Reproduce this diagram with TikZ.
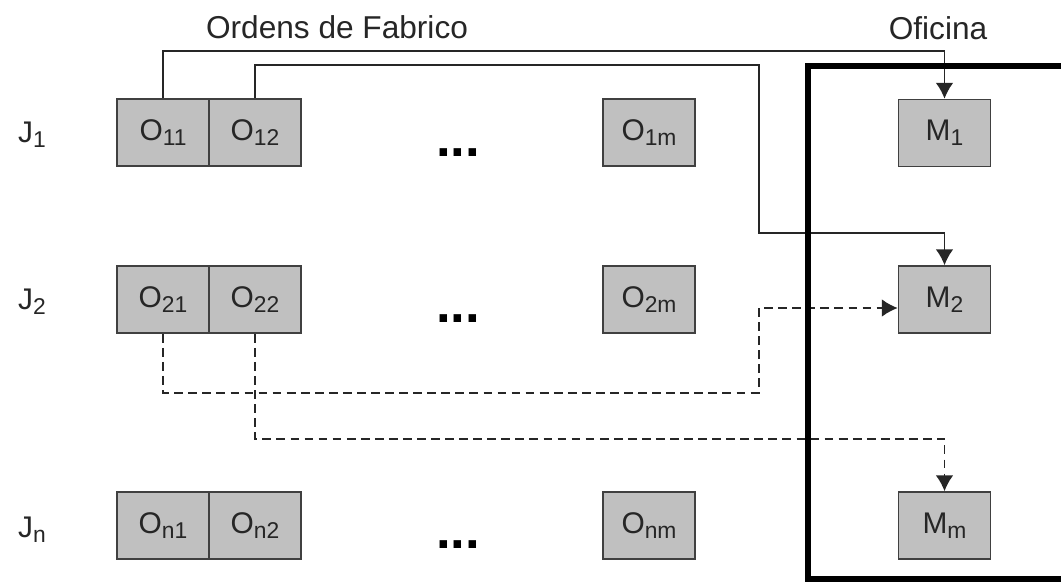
\documentclass[tikz,border=0pt]{standalone}
\usepackage{fontspec}
\setmainfont{Liberation Sans}
\usepackage{tikz}
\usetikzlibrary{positioning, arrows.meta, calc}
\definecolor{boxgray}{HTML}{C0C0C0}
\definecolor{edgegray}{HTML}{404040}
\newcommand{\lowidx}[1]{\raisebox{-0.3ex}{\fontsize{13}{13}\selectfont #1}}

\begin{document}
\begin{tikzpicture}[x=0.02cm, y=-0.02cm,
		opbox/.style={draw=edgegray, line width=0.9pt, fill=boxgray, minimum width=1.84cm, minimum height=1.34cm, inner sep=0pt, font=\fontsize{17}{17}\selectfont, text=black!85},
		flow/.style={draw=black!85, line width=1pt, -{Latex[length=9pt, width=10pt]}},
		joblabel/.style={anchor=west, font=\fontsize{17}{17}\selectfont, text=black!85},
		title/.style={font=\fontsize{18}{18}\selectfont, text=black!85},
		dots/.style={anchor=base, font=\fontsize{30}{30}\selectfont\bfseries}]
		\useasboundingbox (0,0) rectangle (1061,582);
		\clip (0,0) rectangle (1061,582);
		
		\node[title] (orders) at (337,27) {Ordens de Fabrico};
		\node[title] (shop) at (938,28) {Oficina};
		
		\node[joblabel] (j1) at (12,135) {J\lowidx{1}};
		\node[joblabel] (j2) at (12,302) {J\lowidx{2}};
		\node[joblabel] (jn) at (12,530) {J\lowidx{n}};
		
		\node[opbox] (o11) at (163,132.5) {O\lowidx{11}};
		\node[opbox, right=-\pgflinewidth of o11] (o12) {O\lowidx{12}};
		\node[opbox] (o1m) at (649,132.5) {O\lowidx{1m}};
		\node[opbox] (m1) at (944.5,133) {M\lowidx{1}};
		
		\node[opbox] (o21) at (163,299.5) {O\lowidx{21}};
		\node[opbox, right=-\pgflinewidth of o21] (o22) {O\lowidx{22}};
		\node[opbox] (o2m) at (649,299.5) {O\lowidx{2m}};
		\node[opbox] (m2) at (944.5,299.5) {M\lowidx{2}};
		
		\node[opbox] (on1) at (163,525.5) {O\lowidx{n1}};
		\node[opbox, right=-\pgflinewidth of on1] (on2) {O\lowidx{n2}};
		\node[opbox] (onm) at (649,525.5) {O\lowidx{nm}};
		\node[opbox] (mm) at (944.5,525.5) {M\lowidx{m}};
		
		\node[dots] (dots1) at (458,156) {...};
		\node[dots] (dots2) at (458,322) {...};
		\node[dots] (dotsn) at (458,548) {...};
		
		\coordinate (bend) at (759,233);
		\coordinate (m2in) at ($(m2.west)+(0,8.5)$);
		\draw[flow] (o11.north) -- ++(0,-47) -| (m1.north);
		\draw[flow] (o12.north) -- ++(0,-33) -| (bend) -| (m2.north);
		\draw[flow, dash pattern=on 5pt off 3pt] (o21.south) -- ++(0,59) -| (bend |- m2in) -- (m2in);
		\draw[flow, dash pattern=on 5pt off 3pt] (o22.south) -- ++(0,105) -| (mm.north);
		
		\draw[line width=3pt] (808,66) rectangle (1080,579);
	\end{tikzpicture}
\end{document}
